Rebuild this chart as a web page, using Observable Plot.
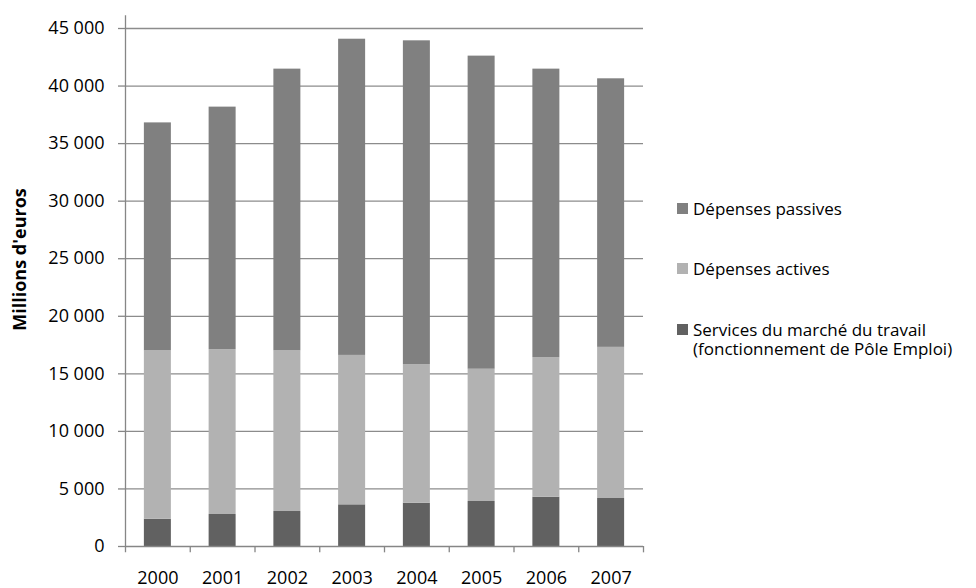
<!DOCTYPE html>
<html>
<head>
<meta charset="utf-8">
<script src="https://cdn.jsdelivr.net/npm/d3@7"></script>
<script src="https://cdn.jsdelivr.net/npm/@observablehq/plot@0.6"></script>
<style>
  html, body { margin: 0; padding: 0; background: #fff; }
  #wrap { position: relative; width: 976px; height: 588px; font-family: "Open Sans", sans-serif; }
  #legend { position: absolute; left: 677px; top: 0; font-size: 17px; color: #000; }
  .item { position: absolute; left: 0; white-space: nowrap; line-height: 19px; }
  .sw { position: absolute; left: 0; top: 4px; width: 11px; height: 11px; }
  .lbl { position: absolute; left: 16px; top: 0; }
</style>
</head>
<body>
<div id="wrap"><div id="legend"></div></div>
<script>
const years = ["2000", "2001", "2002", "2003", "2004", "2005", "2006", "2007"];
const seriesNames = [
  "Services du marché du travail (fonctionnement de Pôle Emploi)",
  "Dépenses actives",
  "Dépenses passives"
];
const services = [2370, 2780, 3040, 3620, 3760, 3910, 4280, 4170];
const actives  = [14630, 14320, 13960, 12980, 12040, 11490, 12120, 13130];
const passives = [19800, 21070, 24470, 27470, 28130, 27200, 25070, 23330];
const yTicks = [0, 5000, 10000, 15000, 20000, 25000, 30000, 35000, 40000, 45000];
const colors = ["#616161", "#b2b2b2", "#808080"];

const seriesValues = [services, actives, passives];
const data = [];
seriesNames.forEach((s, si) => years.forEach((y, i) => data.push({year: y, series: s, value: seriesValues[si][i]})));

const W = 976, H = 588, mL = 125, mR = 333, mT = 28, mB = 42;
const step = (W - mL - mR) / years.length;
const fmt = d => d3.format(",")(d).replace(/,/g, " ");

const chart = Plot.plot({
  width: W, height: H,
  marginLeft: mL, marginRight: mR, marginTop: mT, marginBottom: mB,
  style: {fontFamily: "Open Sans, sans-serif", fontSize: "18px", color: "#000", background: "#fff"},
  x: {domain: years, paddingInner: 0.583, paddingOuter: 0.2915, align: 0.5, round: false, label: null},
  y: {domain: [0, 45000], label: null},
  color: {domain: seriesNames, range: colors},
  marks: [
    Plot.ruleY(yTicks.slice(1), {stroke: "#8c8c8c", strokeWidth: 1.3}),
    Plot.barY(data, {x: "year", y: "value", fill: "series"}),
    Plot.ruleY([0], {stroke: "#868686", strokeWidth: 1.3}),
    Plot.ruleX([years[0]], {x: d => d, dx: -step / 2, y1: -550, y2: 46100, stroke: "#868686", strokeWidth: 1.3}),
    Plot.ruleX(years.slice(1), {x: d => d, dx: -step / 2, y1: 0, y2: -550, stroke: "#868686", strokeWidth: 1.3}),
    Plot.ruleX([years[years.length - 1]], {x: d => d, dx: step / 2, y1: 0, y2: -550, stroke: "#868686", strokeWidth: 1.3}),
    Plot.axisY({ticks: yTicks, tickFormat: fmt, tickSize: 7, tickPadding: 14, stroke: "#868686", strokeWidth: 1.3, fill: "#000", label: null}),
    Plot.axisX({tickSize: 0, tickPadding: 25, fill: "#000", label: null}),
    Plot.text(["Millions d'euros"], {frameAnchor: "left", textAnchor: "middle", lineAnchor: "middle", rotate: -90, dx: -105, dy: -28, fontWeight: "bold", fontSize: 18, fill: "#000"})
  ]
});
document.getElementById("wrap").prepend(chart);
chart.style.position = "absolute";
chart.style.left = "0";
chart.style.top = "0";

const legendRows = [
  {color: colors[2], top: 199, text: "Dépenses passives"},
  {color: colors[1], top: 259, text: "Dépenses actives"},
  {color: colors[0], top: 320, text: "Services du marché du travail<br>(fonctionnement de Pôle Emploi)"}
];
const legend = document.getElementById("legend");
legendRows.forEach(r => {
  const it = document.createElement("div");
  it.className = "item";
  it.style.top = r.top + "px";
  it.innerHTML = `<span class="sw" style="background:${r.color}"></span><span class="lbl">${r.text}</span>`;
  legend.appendChild(it);
});
</script>
</body>
</html>
